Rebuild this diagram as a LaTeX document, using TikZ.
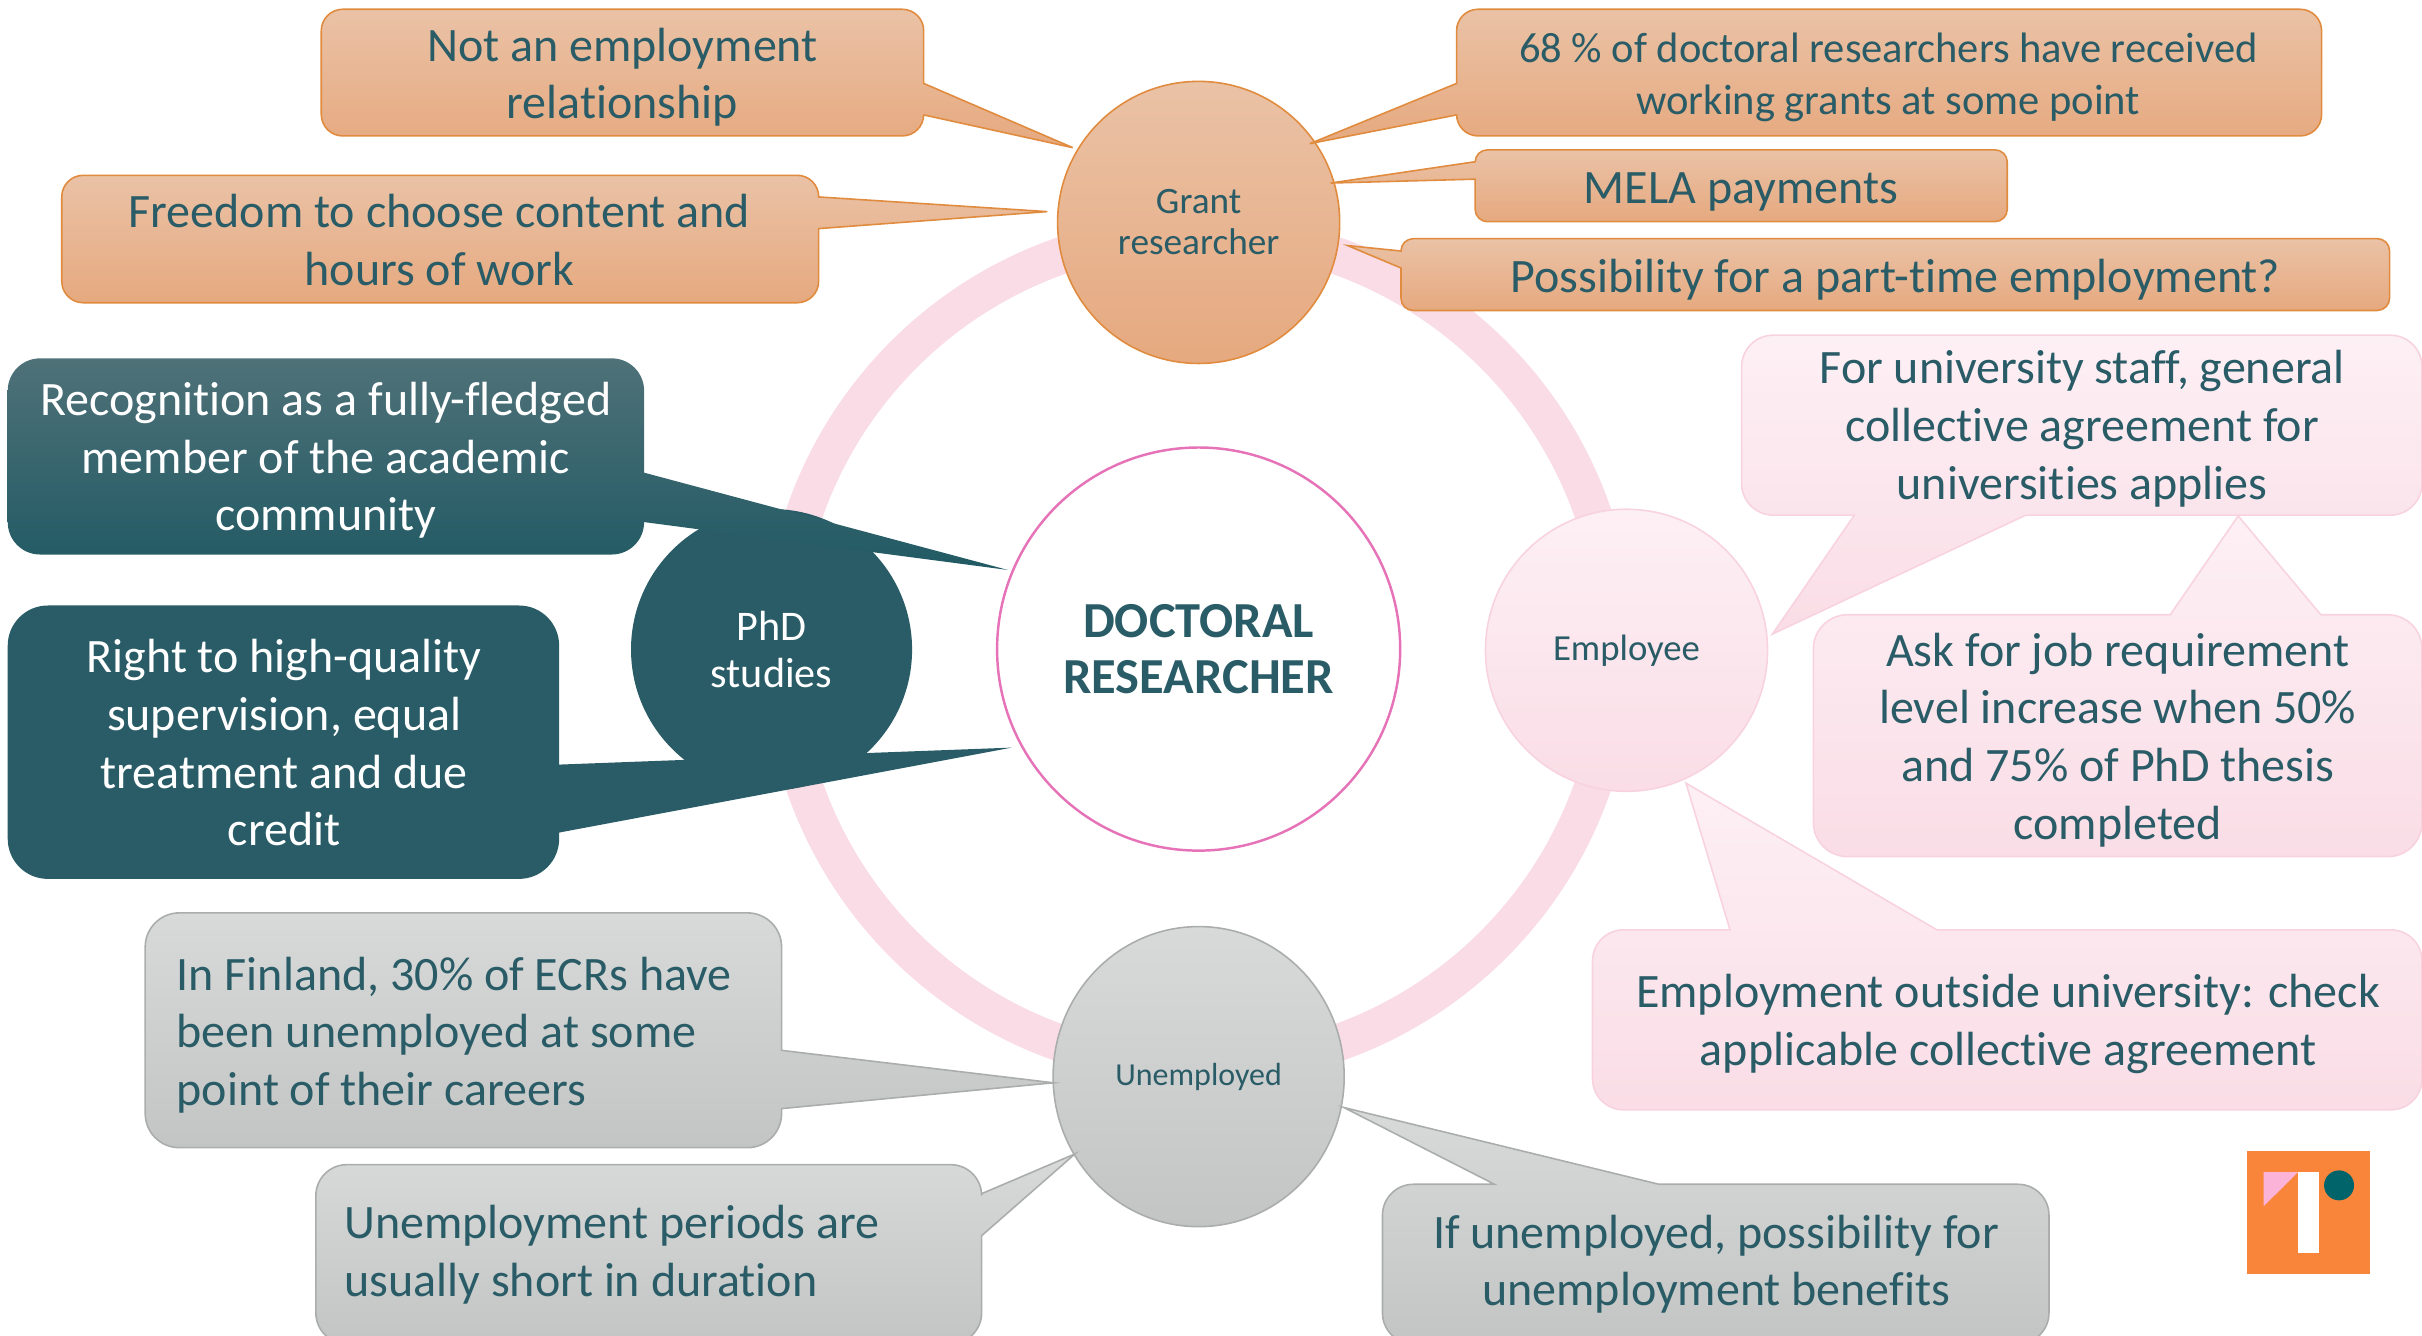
\documentclass[tikz,border=0pt]{standalone}
\usepackage{fontspec}
\setmainfont{Carlito}[Ligatures=NoCommon]
\usetikzlibrary{shapes.geometric}
\definecolor{tealtext}{HTML}{295C66}
\definecolor{tealtop}{HTML}{4F7178}
\definecolor{tealmid}{HTML}{265B66}
\definecolor{tealbot}{HTML}{215A64}
\definecolor{ringpink}{HTML}{F9DCE5}
\definecolor{rimpink}{HTML}{E672B8}
\definecolor{logoorange}{HTML}{F9853B}
\definecolor{logopink}{HTML}{FBB4D8}
\definecolor{logoteal}{HTML}{00646A}
\definecolor{orangeline}{HTML}{E08B3E}
\definecolor{orangetop}{HTML}{EAC2A6}
\definecolor{orangebot}{HTML}{E6A97F}
\definecolor{pinkline}{HTML}{F8D3DF}
\definecolor{pinktop}{HTML}{FDF0F5}
\definecolor{pinkbot}{HTML}{FADDE6}
\definecolor{greyline}{HTML}{ABADAD}
\definecolor{greytop}{HTML}{D8D9D9}
\definecolor{greybot}{HTML}{C3C4C4}
\tikzset{
  orangebox/.style={draw=orangeline,line width=0.45pt,top color=orangetop,bottom color=orangebot},
  pinkbox/.style={draw=pinkline,line width=0.45pt,top color=pinktop,bottom color=pinkbot},
  greybox/.style={draw=greyline,line width=0.45pt,top color=greytop,bottom color=greybot},
  label/.style={text=tealtext,align=center,inner sep=0pt,font=\fontsize{13.65}{16.4}\selectfont},
  small label/.style={label,font=\fontsize{12.1}{14.8}\selectfont},
  left label/.style={label,align=left},
  white label/.style={label,text=white},
}
\begin{document}
\begin{tikzpicture}[x=0.015446cm,y=-0.015446cm]
\useasboundingbox (0,0) rectangle (1568,864.3);

% ring behind the four circles
\coordinate (centre) at (776,420.5);
\draw[ringpink,line width=0.37cm] (centre) circle (270);

\node[circle,draw=orangeline,line width=0.45pt,top color=orangetop,bottom color=orangebot,minimum size=2.82cm,inner sep=0pt,text=tealtext,align=center,font=\fontsize{10.6}{11.7}\selectfont] (grant) at (776,144) {Grant\\researcher};
\node[circle,fill=tealtext,minimum size=2.81cm,inner sep=0pt,text=white,align=center,font=\fontsize{12}{13.2}\selectfont] (phd) at (499.5,420.5) {PhD\\studies};
\node[circle,draw=pinkline,line width=0.45pt,top color=pinktop,bottom color=pinkbot,minimum size=2.82cm,inner sep=0pt,text=tealtext,font=\fontsize{10.45}{12}\selectfont] (employee) at (1053,421) {Employee};
\node[ellipse,draw=greyline,line width=0.45pt,top color=greytop,bottom color=greybot,minimum width=2.91cm,minimum height=3cm,inner sep=0pt,text=tealtext,font=\fontsize{9.1}{10}\selectfont] (unemployed) at (776,697) {Unemployed};
\node[circle,draw=rimpink,line width=0.7pt,fill=white,minimum size=4.03cm,inner sep=0pt,text=tealtext,align=center,font=\fontsize{14.35}{15.8}\bfseries\selectfont] (doctoral) at (776,420.2) {DOCTORAL\\RESEARCHER};

% tips of the tails
\coordinate (tipA) at (694.5,95.6);
\coordinate (tipB) at (678,137);
\coordinate (tipC) at (652.5,369);
\coordinate (tipD) at (655,484);
\coordinate (tipE) at (848,93);
\coordinate (tipF) at (861.5,118.5);
\coordinate (tipG) at (872.5,159);
\coordinate (tipH) at (1147.5,410.5);
\coordinate (tipI) at (1449,334);
\coordinate (tipJ) at (1091.5,507);
\coordinate (tipK) at (682,701);
\coordinate (tipL) at (696,747);
\coordinate (tipM) at (870,717);

% orange boxes
\path[orangebox] (598,74.4) [rounded corners=6.1pt] -- (598,88) -- (208,88) -- (208,6) -- (598,6) [sharp corners] -- (598,54) -- (tipA) -- cycle;
\path[orangebox] (530,148) [rounded corners=6.1pt] -- (530,196) -- (40,196) -- (40,113.5) -- (530,113.5) [sharp corners] -- (530,127.5) -- (tipB) -- cycle;
\path[orangebox] (943,54) [rounded corners=6.1pt] -- (943,6) -- (1503,6) -- (1503,88) -- (943,88) [sharp corners] -- (943,74.4) -- (tipE) -- cycle;
\path[orangebox] (955,104.7) [rounded corners=3.5pt] -- (955,97) -- (1299.5,97) -- (1299.5,143.5) -- (955,143.5) [sharp corners] -- (955,116) -- (tipF) -- cycle;
\path[orangebox] (907,162.5) [rounded corners=3.5pt] -- (907,154.5) -- (1547,154.5) -- (1547,201) -- (907,201) [sharp corners] -- (907,173.5) -- (tipG) -- cycle;

% teal boxes
\path[top color=tealtop,middle color=tealmid,bottom color=tealbot] (417,338) [rounded corners=9.2pt] -- (417,359) -- (5,359) -- (5,232) -- (417,232) [sharp corners] -- (417,306) -- (tipC) -- cycle;
\path[fill=tealtext] (362,539) [rounded corners=11.4pt] -- (362,569) -- (5,569) -- (5,392) -- (362,392) [sharp corners] -- (362,495) -- (tipD) -- cycle;

% pink boxes
\path[pinkbox] (1311.5,333.5) [rounded corners=9pt] -- (1568,333.5) -- (1568,217) -- (1127.5,217) -- (1127.5,333.5) [sharp corners] -- (1200.5,333.5) -- (tipH) -- cycle;
\path[pinkbox] (1405,398) [rounded corners=9.7pt] -- (1174,398) -- (1174,554.6) -- (1568,554.6) -- (1568,398) [sharp corners] -- (1502.5,398) -- (tipI) -- cycle;
\path[pinkbox] (1120,602) [rounded corners=8.8pt] -- (1031,602) -- (1031,718.5) -- (1568,718.5) -- (1568,602) [sharp corners] -- (1254,602) -- (tipJ) -- cycle;

% grey boxes
\path[greybox] (506,717.7) [rounded corners=9.7pt] -- (506,743) -- (94,743) -- (94,591) -- (506,591) [sharp corners] -- (506,680) -- (tipK) -- cycle;
\path[greybox] (635.5,800) [rounded corners=8.8pt] -- (635.5,870) -- (204.5,870) -- (204.5,754) -- (635.5,754) [sharp corners] -- (635.5,772.8) -- (tipL) -- cycle;
\path[greybox] (967.5,766.7) [rounded corners=8.8pt] -- (895,766.7) -- (895,870) -- (1326.5,870) -- (1326.5,766.7) [sharp corners] -- (1074,766.7) -- (tipM) -- cycle;

% texts
\node[label] (notemployment) at (403,50) {Not an employment\\relationship};
\node[label] (freedom) at (284.5,155.5) {Freedom to choose content and\\hours of work};
\node[small label] (grants) at (1222.5,50) {68 \% of doctoral researchers have received\\working grants at some point};
\node[label] (mela) at (1127,124) {MELA payments};
\node[label] (parttime) at (1227,181) {Possibility for a part-time employment?};
\node[white label] (recognition) at (211,298) {Recognition as a fully-fledged\\member of the academic\\community};
\node[white label] (supervision) at (184,481) {Right to high-quality\\supervision, equal\\treatment and due\\credit};
\node[label] (staff) at (1348,277.5) {For university staff, general\\collective agreement for\\universities applies};
\node[label] (jobreq) at (1371,479) {Ask for job requirement\\level increase when 50\%\\and 75\% of PhD thesis\\completed};
\node[label] (outside) at (1300,663) {Employment outside university: check\\applicable collective agreement};
\node[left label,anchor=west] (ecrs) at (114,670) {In Finland, 30\% of ECRs have\\been unemployed at some\\point of their careers};
\node[left label,anchor=west] (periods) at (222.5,812.5) {Unemployment periods are\\usually short in duration};
\node[label] (benefits) at (1111,818.5) {If unemployed, possibility for\\unemployment benefits};

% logo
\fill[logoorange] (1454.8,745.2) rectangle (1534.4,824.8);
\fill[white] (1487.8,758.8) rectangle (1501.4,811.2);
\fill[logopink] (1465.5,758.8) -- (1487.8,758.8) -- (1465.5,780.9) -- cycle;
\fill[logoteal] (1514.3,767.4) circle (9.7);
\end{tikzpicture}
\end{document}
